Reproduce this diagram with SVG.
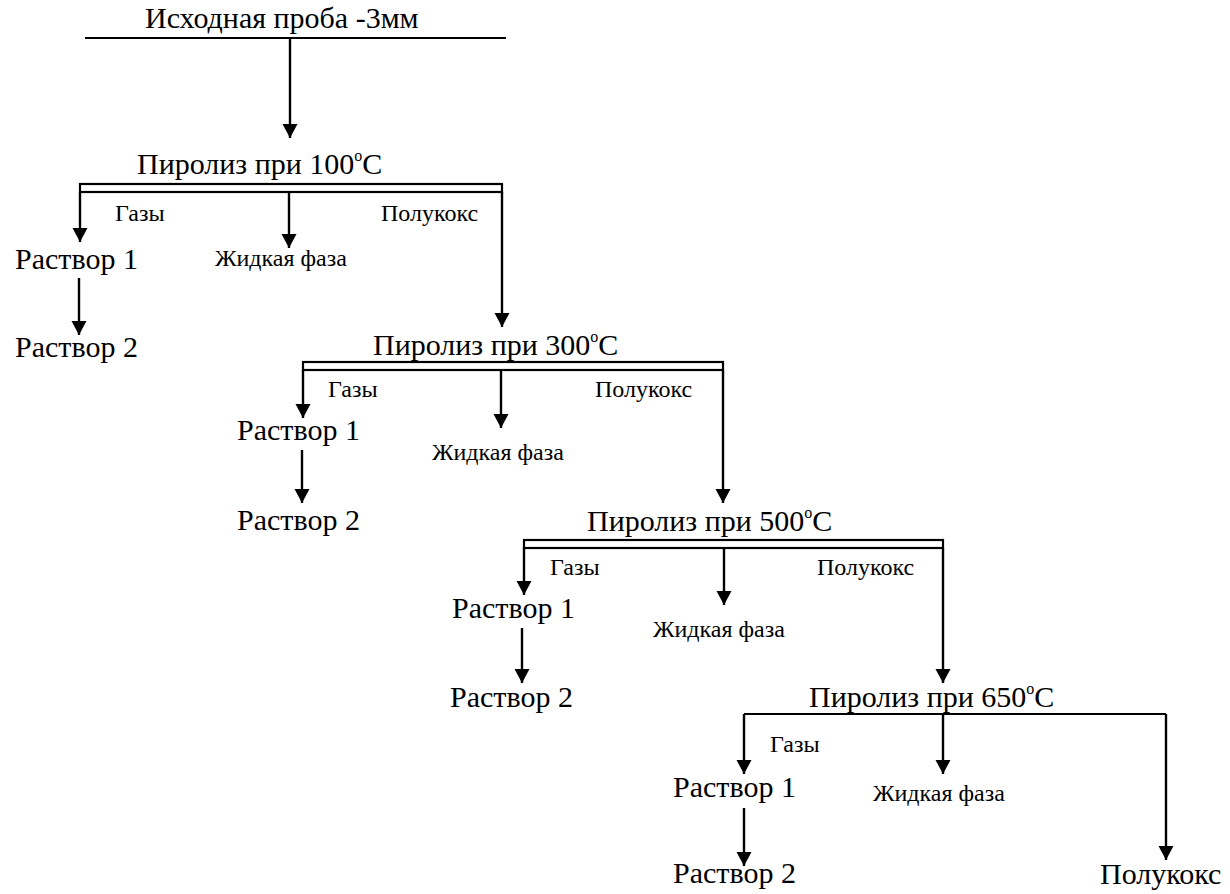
<svg xmlns="http://www.w3.org/2000/svg" width="1230" height="894" viewBox="0 0 1230 894">
<style>
text{font-family:"Liberation Serif","Times New Roman",serif;fill:#000}
.L{font-size:30px}
.S{font-size:24px}
.ln{stroke:#000;stroke-width:2.2;fill:none}
.ar{stroke:#000;stroke-width:2.4;fill:none;marker-end:url(#ah)}
</style>
<defs>
<marker id="ah" markerUnits="userSpaceOnUse" markerWidth="15" markerHeight="16" refX="14" refY="8" orient="auto">
<path d="M0,0.5 L14,8 L0,15.5 z" fill="#000"/>
</marker>
</defs>
<rect width="1230" height="894" fill="#fff"/>

<g id="start"><text class="L" x="145" y="28">Исходная проба -3мм</text></g>

<g id="p100"><text class="L" x="137" y="174">Пиролиз при 100<tspan font-size="16" dy="-13">o</tspan><tspan dy="13">С</tspan></text></g>
<g id="gas1"><text class="S" x="115" y="221">Газы</text></g>
<g id="coke1"><text class="S" x="381" y="221">Полукокс</text></g>
<g id="r1a"><text class="L" x="15" y="269">Раствор 1</text></g>
<g id="liq1"><text class="S" x="215" y="266">Жидкая фаза</text></g>
<g id="r2a"><text class="L" x="15" y="357">Раствор 2</text></g>

<g id="p300"><text class="L" x="373" y="355">Пиролиз при 300<tspan font-size="16" dy="-13">o</tspan><tspan dy="13">С</tspan></text></g>
<g id="gas2"><text class="S" x="328" y="397">Газы</text></g>
<g id="coke2"><text class="S" x="595" y="397">Полукокс</text></g>
<g id="r1b"><text class="L" x="237" y="440">Раствор 1</text></g>
<g id="liq2"><text class="S" x="432" y="460">Жидкая фаза</text></g>
<g id="r2b"><text class="L" x="237" y="530">Раствор 2</text></g>

<g id="p500"><text class="L" x="587" y="531">Пиролиз при 500<tspan font-size="16" dy="-13">o</tspan><tspan dy="13">С</tspan></text></g>
<g id="gas3"><text class="S" x="550" y="575">Газы</text></g>
<g id="coke3"><text class="S" x="817" y="575">Полукокс</text></g>
<g id="r1c"><text class="L" x="452" y="618">Раствор 1</text></g>
<g id="liq3"><text class="S" x="653" y="637">Жидкая фаза</text></g>
<g id="r2c"><text class="L" x="450" y="707">Раствор 2</text></g>

<g id="p650"><text class="L" x="809" y="707">Пиролиз при 650<tspan font-size="16" dy="-13">o</tspan><tspan dy="13">С</tspan></text></g>
<g id="gas4"><text class="S" x="770" y="752">Газы</text></g>
<g id="r1d"><text class="L" x="673" y="797">Раствор 1</text></g>
<g id="liq4"><text class="S" x="873" y="801">Жидкая фаза</text></g>
<g id="r2d"><text class="L" x="673" y="883">Раствор 2</text></g>
<g id="coke4"><text class="L" x="1100" y="884">Полукокс</text></g>

<g id="connectors">
<line class="ln" x1="85" y1="38" x2="506" y2="38"/>
<line class="ar" x1="290" y1="38" x2="290" y2="138"/>

<rect class="ln" x="80" y="184" width="422" height="8"/>
<line class="ar" x1="80" y1="192" x2="80" y2="242"/>
<line class="ar" x1="289" y1="192" x2="289" y2="248"/>
<line class="ar" x1="502" y1="192" x2="502" y2="327"/>
<line class="ar" x1="79" y1="278" x2="79" y2="335"/>

<rect class="ln" x="303" y="362" width="420" height="8"/>
<line class="ar" x1="303" y1="370" x2="303" y2="418"/>
<line class="ar" x1="501" y1="370" x2="501" y2="428"/>
<line class="ar" x1="723" y1="370" x2="723" y2="503"/>
<line class="ar" x1="302" y1="450" x2="302" y2="503"/>

<rect class="ln" x="524" y="540" width="419" height="8"/>
<line class="ar" x1="524" y1="548" x2="524" y2="595"/>
<line class="ar" x1="724" y1="548" x2="724" y2="605"/>
<line class="ar" x1="943" y1="548" x2="943" y2="683"/>
<line class="ar" x1="522" y1="628" x2="522" y2="683"/>

<line class="ln" x1="744" y1="714" x2="1166" y2="714"/>
<line class="ar" x1="744" y1="714" x2="744" y2="774"/>
<line class="ar" x1="943" y1="714" x2="943" y2="774"/>
<line class="ar" x1="1166" y1="714" x2="1166" y2="860"/>
<line class="ar" x1="744" y1="808" x2="744" y2="866"/>
</g>
</svg>
